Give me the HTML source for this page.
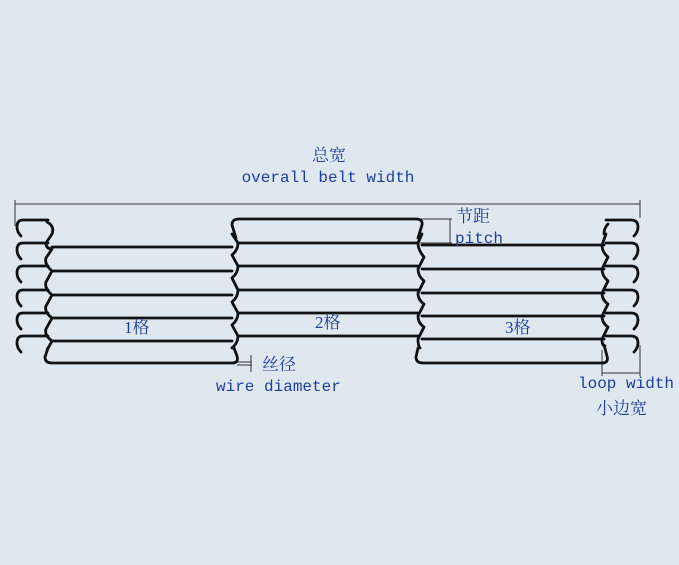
<!DOCTYPE html>
<html><head><meta charset="utf-8"><style>
html,body{margin:0;padding:0;background:#dfe7ef;}
svg{display:block}
.t{font-family:"Liberation Mono","Noto Sans CJK SC",monospace;fill:#1d3f9e;font-size:16px}
.c{font-family:"Liberation Serif","Noto Serif CJK SC",serif;fill:#1d3f9e;font-size:17px}
</style></head><body>
<svg width="679" height="565" viewBox="0 0 679 565" xmlns="http://www.w3.org/2000/svg">
<rect width="679" height="565" fill="#dfe7ef"/>
<g stroke="#333" stroke-width="1" fill="none">
<line x1="15" y1="204" x2="640" y2="204"/>
<line x1="15" y1="200" x2="15" y2="226"/>
<line x1="640" y1="200" x2="640" y2="218"/>
<line x1="420" y1="219" x2="452" y2="219"/>
<line x1="420" y1="243" x2="452" y2="243"/>
<line x1="450" y1="219" x2="450" y2="243"/>
<line x1="602" y1="350" x2="602" y2="376"/>
<line x1="640" y1="345" x2="640" y2="376"/>
<line x1="602" y1="373" x2="640" y2="373"/>
<line x1="237" y1="362" x2="252" y2="362"/>
<line x1="237" y1="365" x2="252" y2="365"/>
<line x1="251" y1="355" x2="251" y2="372"/>
</g>
<g fill="none" stroke="#111" stroke-width="2.8" stroke-linejoin="round" stroke-linecap="round">
<path d="M52 247H232M52 271H232M52 295H232M52 318H232M52 341H232"/>
<path d="M48 348L45 357Q45 363 52 363H232Q239 363 237 356L234 348"/>
<path d="M238 243H418M238 266H418M238 290H418M238 313H418M238 336H418"/>
<path d="M236 238L232 225Q232 219 239 219H416Q423 219 422 225L418 238"/>
<path d="M422 245H604M422 269H604M422 293H604M422 316H604M422 339H604"/>
<path d="M418 348L416 357Q416 363 423 363H602Q609 363 607 356L604 345"/>
<path d="M47 222Q55 226 52 234L46 243Q46 249 52 249L46 258Q44 264 52 271L46 282Q44 288 52 295L46 306Q44 312 52 318L46 329Q44 335 52 341L47 350"/>
<path d="M232 234L238 243Q238 250 232 255L238 266Q238 273 232 278L238 290Q238 297 232 302L238 313Q238 320 232 325L238 336Q238 343 232 348L234 348"/>
<path d="M422 234L418 243Q418 250 424 257L418 269Q418 276 424 281L418 293Q418 300 424 304L418 316Q418 323 424 327L418 339Q418 346 420 348"/>
<path d="M604 234Q604 228 608 224M606 234L602 245Q602 252 608 257L602 269Q602 276 608 281L602 293Q602 300 608 304L602 316Q602 323 608 327L602 339Q602 346 605 346"/>
<path d="M48 220H23Q17 220 17 227Q17 232 21 236"/>
<path d="M48 243H23Q17 243 17 250Q17 255 21 259"/>
<path d="M48 266H23Q17 266 17 273Q17 278 21 282"/>
<path d="M48 290H23Q17 290 17 297Q17 302 21 306"/>
<path d="M48 313H23Q17 313 17 320Q17 325 21 329"/>
<path d="M48 336H23Q17 336 17 343Q17 348 21 352"/>
<path d="M606 220H631Q638 220 638 227Q638 232 634 236"/>
<path d="M606 243H631Q638 243 638 250Q638 255 634 259"/>
<path d="M606 266H631Q638 266 638 273Q638 278 634 282"/>
<path d="M606 290H631Q638 290 638 297Q638 302 634 306"/>
<path d="M606 313H631Q638 313 638 320Q638 325 634 329"/>
<path d="M606 336H631Q638 336 638 343Q638 348 634 352"/>
</g>
<text class="c" x="329" y="161" text-anchor="middle">总宽</text>
<text class="t" x="328" y="182" text-anchor="middle">overall belt width</text>
<text class="c" x="456" y="222">节距</text>
<text class="t" x="455" y="243">pitch</text>
<text class="c" x="262" y="370">丝径</text>
<text class="t" x="216" y="391">wire diameter</text>
<text class="t" x="578" y="388">loop width</text>
<text class="c" x="596" y="414">小边宽</text>
<text class="c" x="124" y="333">1格</text>
<text class="c" x="315" y="328">2格</text>
<text class="c" x="505" y="333">3格</text>
</svg>
</body></html>
